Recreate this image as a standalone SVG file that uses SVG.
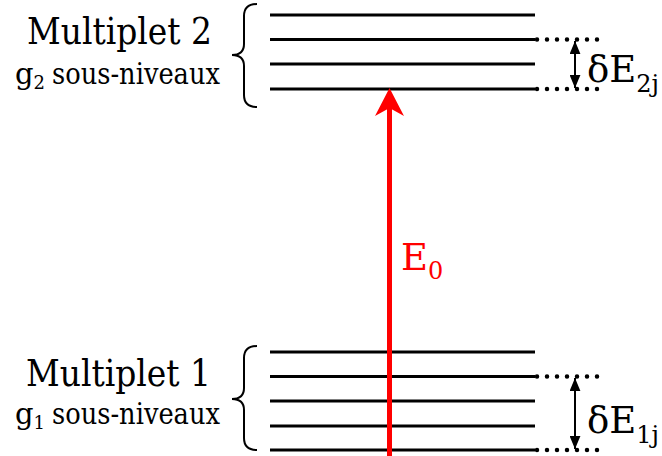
<svg xmlns="http://www.w3.org/2000/svg" width="662" height="456" viewBox="0 0 662 456">
<defs>
<style>
.lvl{stroke:#000;stroke-width:3;fill:none}
.dots{stroke:#000;stroke-width:4.5;stroke-linecap:round;stroke-dasharray:0 10;fill:none}
.brace{stroke:#000;stroke-width:2;fill:none}
.dbl{stroke:#000;stroke-width:2;fill:none;marker-start:url(#ah);marker-end:url(#ah)}
text{font-family:"DejaVu Serif","Liberation Serif",serif;fill:#000}
</style>
<marker id="ah" viewBox="0 0 12 10" refX="12" refY="5" markerWidth="13" markerHeight="11" markerUnits="userSpaceOnUse" orient="auto-start-reverse">
<path d="M0,0 L12,5 L0,10 Z" fill="#000"/>
</marker>
</defs>
<rect width="662" height="456" fill="#fff"/>
<g id="multiplet2">
<line class="lvl" x1="270" y1="15" x2="535" y2="15"/>
<line class="lvl" x1="270" y1="39.5" x2="535" y2="39.5"/>
<line class="lvl" x1="270" y1="64" x2="535" y2="64"/>
<line class="lvl" x1="270" y1="89" x2="535" y2="89"/>
<path class="brace" d="M257,4 Q244,4 244,16 L244,44 Q244,55 232,55 Q244,55 244,66 L244,95 Q244,107 257,107"/>
<text x="27" y="44" font-size="38" textLength="185" lengthAdjust="spacingAndGlyphs">Multiplet 2</text>
<text x="15" y="84" font-size="29">g<tspan font-size="18" dy="5">2</tspan></text>
<text x="52" y="84" font-size="29" textLength="168" lengthAdjust="spacingAndGlyphs">sous-niveaux</text>
</g>
<g id="multiplet1">
<line class="lvl" x1="270" y1="352" x2="535" y2="352"/>
<line class="lvl" x1="270" y1="376.5" x2="535" y2="376.5"/>
<line class="lvl" x1="270" y1="401" x2="535" y2="401"/>
<line class="lvl" x1="270" y1="426" x2="535" y2="426"/>
<line class="lvl" x1="270" y1="450" x2="535" y2="450"/>
<path class="brace" d="M257,346 Q244,346 244,358 L244,388 Q244,399 232,399 Q244,399 244,410 L244,438 Q244,450 257,450"/>
<text x="26" y="386" font-size="38" textLength="185" lengthAdjust="spacingAndGlyphs">Multiplet 1</text>
<text x="15" y="424" font-size="29">g<tspan font-size="18" dy="5">1</tspan></text>
<text x="52" y="424" font-size="29" textLength="168" lengthAdjust="spacingAndGlyphs">sous-niveaux</text>
</g>
<g id="connectors">
<line class="dots" x1="537" y1="39.5" x2="598" y2="39.5"/>
<line class="dots" x1="537" y1="89" x2="598" y2="89"/>
<line class="dots" x1="537" y1="376.5" x2="598" y2="376.5"/>
<line class="dots" x1="537" y1="450" x2="598" y2="450"/>
<line class="dbl" x1="575" y1="41" x2="575" y2="88"/>
<line class="dbl" x1="575" y1="378" x2="575" y2="449"/>
<line x1="389.5" y1="456" x2="389.5" y2="108" stroke="#ff0000" stroke-width="5"/>
<path d="M389.5,88 L404,116 L389.5,108 L375,116 Z" fill="#ff0000"/>
</g>
<g id="labels">
<text x="587" y="82" font-size="37">δE<tspan font-size="24" dy="10">2j</tspan></text>
<text x="587" y="433" font-size="37">δE<tspan font-size="24" dy="10">1j</tspan></text>
<text x="401" y="270" font-size="37" style="fill:#ff0000">E<tspan font-size="24" dy="9">0</tspan></text>
</g>
</svg>
